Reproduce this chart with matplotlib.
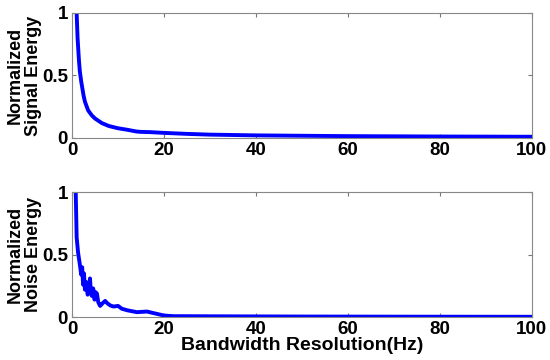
import matplotlib
matplotlib.use("Agg")
import matplotlib.pyplot as plt

plt.rcParams['font.family'] = ['Liberation Sans', 'DejaVu Sans']
plt.rcParams['font.weight'] = 'bold'

# Signal energy curve
sig_x = [0.7, 1.0, 1.2, 1.5, 1.7, 2.0, 2.5, 2.8, 3.5, 4.3, 5.0, 6.5, 8.0, 10.0,
         12.0, 14.0, 15.0, 17.0, 20.0, 25.0, 30.0, 40.0, 50.0, 60.0, 80.0, 100.0]
sig_y = [1.3, 1.0, 0.8, 0.62, 0.53, 0.45, 0.34, 0.29, 0.22, 0.18, 0.155, 0.118, 0.095, 0.077,
         0.065, 0.051, 0.048, 0.046, 0.04, 0.032, 0.026, 0.02, 0.017, 0.014, 0.011, 0.009]

# Noise energy curve
noise_x = [0.5, 0.8, 1.0, 1.3, 1.7, 2.0, 2.2, 2.4, 2.6, 2.8, 3.1, 3.4, 3.7, 3.9, 4.1, 4.3,
           4.6, 4.9, 5.1, 5.4, 5.7, 6.1, 6.6, 7.2, 7.7, 8.3, 9.0, 10.0, 10.8, 12.0, 14.1,
           16.3, 18.0, 20.0, 22.0, 30.0, 50.0, 70.0, 100.0]
noise_y = [1.4, 1.0, 0.64, 0.52, 0.42, 0.34, 0.4, 0.26, 0.35, 0.22, 0.28, 0.18, 0.24, 0.31,
           0.2, 0.17, 0.23, 0.14, 0.2, 0.19, 0.12, 0.09, 0.11, 0.13, 0.11, 0.094, 0.085, 0.09,
           0.068, 0.055, 0.04, 0.045, 0.03, 0.013, 0.008, 0.007, 0.005, 0.004, 0.003]

xticks = [0, 20, 40, 60, 80, 100]
yticks = [0, 0.5, 1]
yticklabels = ['0', '0.5', '1']

fig = plt.figure(figsize=(5.5, 3.6), dpi=100)
ax1 = fig.add_axes([0.131, 0.617, 0.836, 0.347])
ax2 = fig.add_axes([0.131, 0.119, 0.836, 0.347])

for ax, x, y, lab in [(ax1, sig_x, sig_y, 'Normalized\nSignal Energy'),
                      (ax2, noise_x, noise_y, 'Normalized\nNoise Energy')]:
    ax.plot(x, y, color='#0000ff', lw=2.8, solid_joinstyle='round')
    ax.set_xlim(0, 100)
    ax.set_ylim(0, 1)
    ax.set_xticks(xticks)
    ax.set_yticks(yticks)
    ax.set_yticklabels(yticklabels)
    ax.tick_params(direction='in', top=True, right=True, labelsize=13.5, length=3,
                   color='#777777', pad=3)
    for lbl in ax.get_xticklabels() + ax.get_yticklabels():
        lbl.set_fontweight('bold')
    for s in ax.spines.values():
        s.set_color('#888888')
        s.set_linewidth(0.8)
    ax.set_ylabel(lab, fontsize=13, fontweight='bold', labelpad=0, linespacing=1.1)

ax2.set_xlabel('Bandwidth Resolution(Hz)', fontsize=14, fontweight='bold', labelpad=-1)

fig.savefig('out.png', dpi=100)
